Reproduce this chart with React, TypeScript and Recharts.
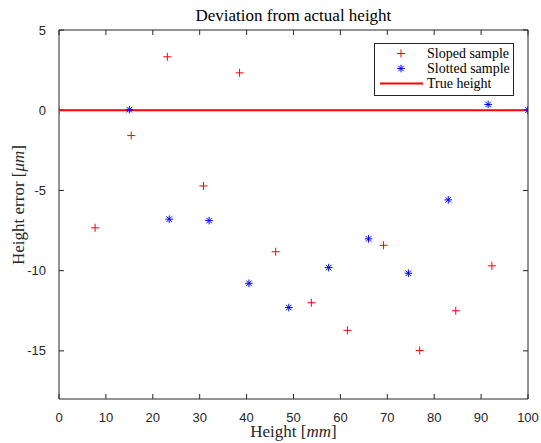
import React from 'react';
import { ScatterChart, Scatter, XAxis, YAxis, Legend, Label } from 'recharts';

const slopedX = [0, 7.7, 15.4, 23.1, 30.8, 38.5, 46.2, 53.8, 61.5, 69.2, 76.9, 84.6, 92.3, 100];
const slopedY = [0, -7.33, -1.58, 3.33, -4.72, 2.33, -8.82, -12.0, -13.72, -8.42, -14.98, -12.5, -9.7, 0];
const slottedX = [15, 23.5, 32, 40.5, 49, 57.5, 66, 74.5, 83, 91.5, 100];
const slottedY = [0.03, -6.79, -6.88, -10.79, -12.3, -9.81, -8.02, -10.16, -5.59, 0.36, 0];
const trueX = [0, 100];
const trueY = [0, 0];
const xTicks = [0, 10, 20, 30, 40, 50, 60, 70, 80, 90, 100];
const yTicks = [5, 0, -5, -10, -15];
const seriesNames = ['Sloped sample', 'Slotted sample', 'True height'];
const titleText = 'Deviation from actual height';

const sloped = slopedX.map((x, i) => ({ x, y: slopedY[i] }));
const slotted = slottedX.map((x, i) => ({ x, y: slottedY[i] }));
const trueLine = trueX.map((x, i) => ({ x, y: trueY[i] }));

const RED = '#ff0000';
const BLUE = '#0000ff';
const AX = '#262626';
const SERIF = '"Liberation Serif", "Times New Roman", serif';
const SANS = '"Liberation Sans", Arial, Helvetica, sans-serif';

const Plus = (props: any) => {
  const { cx, cy } = props;
  if (cx == null || cy == null) return <g />;
  const r = 4;
  return (
    <g>
      <line x1={cx - r} y1={cy} x2={cx + r} y2={cy} stroke={RED} strokeWidth={1} />
      <line x1={cx} y1={cy - r} x2={cx} y2={cy + r} stroke={RED} strokeWidth={1} />
    </g>
  );
};

const Star = (props: any) => {
  const { cx, cy } = props;
  if (cx == null || cy == null) return <g />;
  const r = 3.8;
  const d = r * 0.72;
  return (
    <g stroke={BLUE} strokeWidth={1}>
      <line x1={cx - r} y1={cy} x2={cx + r} y2={cy} />
      <line x1={cx} y1={cy - r} x2={cx} y2={cy + r} />
      <line x1={cx - d} y1={cy - d} x2={cx + d} y2={cy + d} />
      <line x1={cx - d} y1={cy + d} x2={cx + d} y2={cy - d} />
    </g>
  );
};

const Nothing = () => <g />;
const noTickLabel = () => <g />;

const LegendBox = () => (
  <div
    style={{
      width: 140,
      height: 53,
      boxSizing: 'border-box',
      border: `1px solid ${AX}`,
      background: '#fff',
      paddingTop: 2,
      fontFamily: SERIF,
      fontSize: 14,
      color: '#000',
    }}
  >
    {seriesNames.map((name, i) => (
      <div key={name} style={{ display: 'flex', alignItems: 'center', height: 15, lineHeight: '15px' }}>
        <svg width={51} height={15} style={{ display: 'block' }}>
          {i === 0 && <Plus cx={26} cy={7.5} />}
          {i === 1 && <Star cx={26} cy={7.5} />}
          {i === 2 && <line x1={5} y1={7.5} x2={48} y2={7.5} stroke={RED} strokeWidth={2} />}
        </svg>
        <span style={{ marginLeft: 1, whiteSpace: 'nowrap' }}>{name}</span>
      </div>
    ))}
  </div>
);

const XLabel = (props: any) => {
  const vb = props.viewBox || {};
  return (
    <text x={vb.x + vb.width / 2} y={vb.y + 38} textAnchor="middle" fontFamily={SERIF} fontSize={17} fill="#262626">
      Height [<tspan fontStyle="italic">mm</tspan>]
    </text>
  );
};

const YLabel = () => {
  const cx = 24;
  const cy = 205;
  return (
    <text
      x={cx}
      y={cy}
      transform={`rotate(-90 ${cx} ${cy})`}
      textAnchor="middle"
      fontFamily={SERIF}
      fontSize={17}
      fill="#262626"
    >
      Height error [<tspan fontStyle="italic">μm</tspan>]
    </text>
  );
};

export default function App() {
  return (
    <div style={{ position: 'relative', width: 541, height: 443 }}>
      <style>{'body{margin:0}'}</style>
      <ScatterChart width={541} height={443} margin={{ top: 30, right: 13, bottom: 0, left: 8 }}>
        <XAxis
          xAxisId="b"
          type="number"
          dataKey="x"
          domain={[0, 100]}
          ticks={xTicks}
          orientation="bottom"
          height={44}
          stroke={AX}
          tickLine={false}
          tickMargin={8}
          tick={{ fill: AX, fontFamily: SANS, fontSize: 13 }}
          interval={0}
          allowDataOverflow
        >
          <Label content={<XLabel />} />
        </XAxis>
        <XAxis
          xAxisId="bm"
          type="number"
          dataKey="x"
          domain={[0, 100]}
          ticks={xTicks}
          orientation="bottom"
          mirror
          height={1}
          stroke={AX}
          axisLine={false}
          tickLine={{ stroke: AX }}
          tickSize={5}
          tick={noTickLabel}
          interval={0}
          allowDataOverflow
        />
        <XAxis
          xAxisId="t"
          type="number"
          dataKey="x"
          domain={[0, 100]}
          ticks={xTicks}
          orientation="top"
          mirror
          height={1}
          stroke={AX}
          tickLine={{ stroke: AX }}
          tickSize={5}
          tick={noTickLabel}
          interval={0}
          allowDataOverflow
        />
        <YAxis
          yAxisId="l"
          type="number"
          dataKey="y"
          domain={[-18, 5]}
          ticks={yTicks}
          orientation="left"
          width={51}
          stroke={AX}
          tickLine={false}
          tickMargin={7}
          tick={{ fill: AX, fontFamily: SANS, fontSize: 13 }}
          interval={0}
          allowDataOverflow
        >
          <Label content={<YLabel />} />
        </YAxis>
        <YAxis
          yAxisId="lm"
          type="number"
          dataKey="y"
          domain={[-18, 5]}
          ticks={yTicks}
          orientation="left"
          mirror
          width={1}
          stroke={AX}
          axisLine={false}
          tickLine={{ stroke: AX }}
          tickSize={5}
          tick={noTickLabel}
          interval={0}
          allowDataOverflow
        />
        <YAxis
          yAxisId="r"
          type="number"
          dataKey="y"
          domain={[-18, 5]}
          ticks={yTicks}
          orientation="right"
          mirror
          width={1}
          stroke={AX}
          tickLine={{ stroke: AX }}
          tickSize={5}
          tick={noTickLabel}
          interval={0}
          allowDataOverflow
        />
        <Legend
          layout="horizontal"
          verticalAlign="middle"
          align="center"
          wrapperStyle={{ left: 374, top: 43, width: 140 }}
          content={<LegendBox />}
        />
        <Scatter data={trueLine} xAxisId="t" yAxisId="r" shape={<Nothing />} legendType="none" isAnimationActive={false} />
        <Scatter data={trueLine} xAxisId="bm" yAxisId="lm" shape={<Nothing />} legendType="none" isAnimationActive={false} />
        <Scatter
          name={seriesNames[2]}
          data={trueLine}
          xAxisId="b"
          yAxisId="l"
          line={{ stroke: RED, strokeWidth: 2 }}
          lineType="joint"
          shape={<Nothing />}
          isAnimationActive={false}
        />
        <Scatter
          name={seriesNames[0]}
          data={sloped}
          xAxisId="b"
          yAxisId="l"
          shape={<Plus />}
          isAnimationActive={false}
        />
        <Scatter
          name={seriesNames[1]}
          data={slotted}
          xAxisId="b"
          yAxisId="l"
          shape={<Star />}
          isAnimationActive={false}
        />
      </ScatterChart>
      <svg width={541} height={29} style={{ position: 'absolute', left: 0, top: 0, pointerEvents: 'none' }}>
        <text x={293.4} y={20.7} textAnchor="middle" fontFamily={SERIF} fontSize={17} fill="#000">
          {titleText}
        </text>
      </svg>
    </div>
  );
}
